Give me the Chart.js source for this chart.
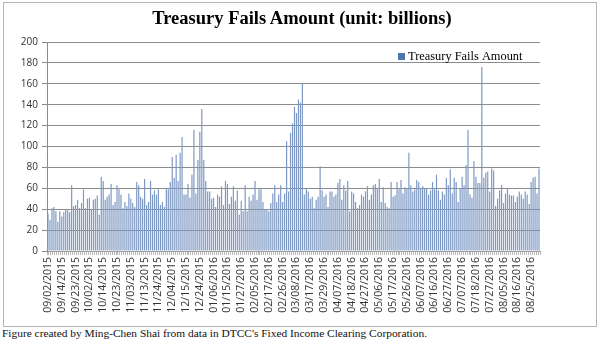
<!DOCTYPE html>
<html>
<head>
<script src="https://cdn.jsdelivr.net/npm/chart.js"></script>
<style>
  body { margin: 0; background: #fff; width: 600px; height: 345px; overflow: hidden; }
  #frame { position: absolute; left: 3px; top: 2px; width: 592px; height: 323px; border: 1px solid #b5b5b5; }
  #title { position: absolute; left: 0; top: 8px; width: 604px; text-align: center; font: bold 18.5px "Liberation Serif"; color: #000; }
  #note { position: absolute; left: 2px; top: 327px; font: 11.4px "Liberation Serif"; color: #111; white-space: nowrap; }
</style>
</head>
<body>
  <div id="frame"><canvas id="fails" width="592" height="323"></canvas></div>
  <div id="title">Treasury Fails Amount (unit: billions)</div>
  <div id="note">Figure created by Ming-Chen Shai from data in DTCC's Fixed Income Clearing Corporation.</div>
  <script>
    const seriesName = "Treasury Fails Amount";

    // one label every 7 business days
    const tickLabels = ["09/02/2015", "09/14/2015", "09/23/2015", "10/02/2015", "10/14/2015", "10/23/2015",
      "11/03/2015", "11/13/2015", "11/24/2015", "12/04/2015", "12/15/2015", "12/24/2015",
      "01/06/2016", "01/15/2016", "01/27/2016", "02/05/2016", "02/17/2016", "02/26/2016",
      "03/08/2016", "03/17/2016", "03/29/2016", "04/07/2016", "04/18/2016", "04/27/2016",
      "05/06/2016", "05/17/2016", "05/26/2016", "06/07/2016", "06/16/2016", "06/27/2016",
      "07/07/2016", "07/18/2016", "07/27/2016", "08/05/2016", "08/16/2016", "08/25/2016"];

    // daily fails, billions
    const fails = [
      36, 30, 41, 42, 38, 28, 38, 33, 37, 40, 39, 37, 63, 43, 44, 49, 41, 46, 59, 41, 50, 51, 40, 49, 50, 53, 35, 71, 67, 49, 52, 54,
      64, 44, 47, 63, 59, 54, 41, 47, 43, 55, 50, 46, 42, 66, 63, 52, 50, 69, 44, 47, 67, 54, 58, 54, 59, 44, 47, 42, 59, 59, 66, 90, 70, 92, 67, 94, 109, 54, 54, 64, 51, 73, 116, 55, 87,
      114, 136, 87, 67, 57, 57, 50, 51, 42, 54, 52, 62, 44, 67, 64, 45, 52, 62, 48, 58, 35, 48, 38, 63, 38, 52, 48, 54, 67, 49, 59, 59, 47, 40, 40, 38, 46, 55, 63, 47, 54, 63, 47, 55, 105, 57, 113,
      122, 138, 132, 145, 142, 160,
      54, 60, 57, 50, 52, 41, 49, 52, 81, 58, 52, 54, 42, 57, 57, 52, 54, 65, 69, 49, 63, 58, 67, 38, 57, 55, 47, 41, 44, 54, 52, 57, 62, 49, 54, 63, 64, 60, 69,
      47, 61, 46, 42, 41, 66, 52, 53, 66, 59, 68, 55, 61, 60, 94, 63, 57, 59, 68, 66, 60, 62, 60, 60, 54, 58, 66, 59, 73, 58, 49, 57, 54, 70, 63, 78, 55, 70, 66, 47, 60, 71, 63, 82, 116, 54,
      51, 86, 71, 65, 65, 176, 70, 75, 76, 57, 79, 77, 43, 50, 58, 63, 46, 55, 60, 54, 53, 53, 47, 52, 57, 54, 50, 57, 54, 45, 66, 70, 71, 55, 79
    ];

    const labels = fails.map((v, i) => (i % 7 === 0 && tickLabels[i / 7]) ? tickLabels[i / 7] : "");

    const barColor = "#7d98c3";

    // legend sits inside the plot, top right
    const innerLegend = {
      id: "innerLegend",
      afterDraw(chart) {
        const ctx = chart.ctx;
        const area = chart.chartArea;
        const x = area.right - 142;
        const y = area.top + 15;
        ctx.save();
        ctx.fillStyle = "#4f76b0";
        ctx.fillRect(x, y - 4, 7, 7);
        ctx.fillStyle = "#000";
        ctx.font = '12.4px "Liberation Serif"';
        ctx.textBaseline = "middle";
        ctx.fillText(seriesName, x + 10, y);
        ctx.restore();
      }
    };

    new Chart("fails", {
      type: "bar",
      data: {
        labels: labels,
        datasets: [{
          label: seriesName,
          data: fails,
          backgroundColor: barColor,
          barPercentage: 0.6,
          categoryPercentage: 1.0,
        }],
      },
      options: {
        responsive: false,
        animation: false,
        devicePixelRatio: 1,
        layout: { padding: { left: 0, right: 56, top: 39, bottom: 0 } },
        plugins: {
          legend: { display: false },
          tooltip: { enabled: false },
        },
        scales: {
          x: {
            afterFit: (s) => { s.height = 75; },
            grid: { display: true, drawOnChartArea: false, tickLength: 4, color: "#b8b8b8" },
            border: { color: "#a0a0a0" },
            ticks: {
              autoSkip: false,
              maxRotation: 90,
              minRotation: 90,
              padding: 2,
              color: "#333",
              font: { family: "Open Sans", size: 10.5 },
            },
          },
          y: {
            min: 0,
            max: 200,
            afterFit: (s) => { s.width = 43; },
            grid: { color: "#8c8c8c", tickLength: 5 },
            border: { color: "#8c8c8c" },
            ticks: {
              stepSize: 20,
              padding: 4,
              color: "#333",
              font: { family: "Open Sans", size: 10 },
            },
          },
        },
      },
      plugins: [innerLegend],
    });
  </script>
</body>
</html>
